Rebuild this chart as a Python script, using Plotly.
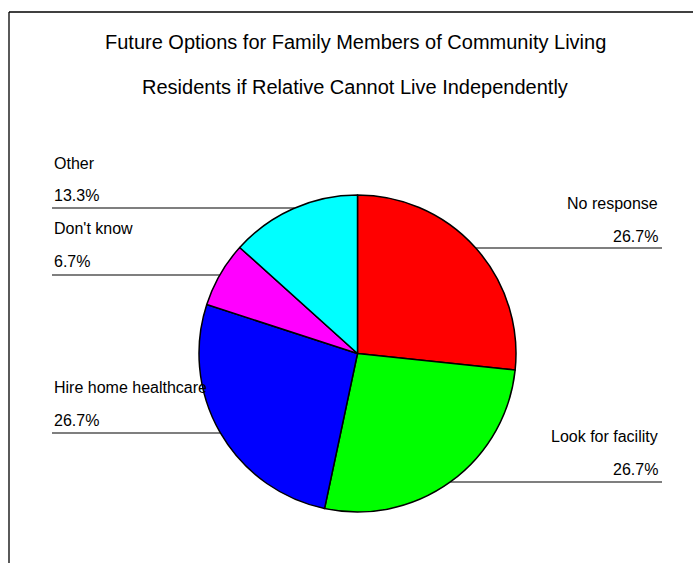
import math
import plotly.graph_objects as go

# Survey responses (counts), in clockwise order from 12 o'clock
categories = ["No response", "Look for facility", "Hire home healthcare", "Don't know", "Other"]
counts = [4, 4, 4, 1, 2]
slice_colors = ["#FF0000", "#00FF00", "#0000FF", "#FF00FF", "#00FFFF"]

title_lines = [
    "Future Options for Family Members of Community Living",
    "Residents if Relative Cannot Live Independently",
]

W, H = 693, 563
FONT = "Liberation Sans, Arial, sans-serif"

# pie placement (pixels)
cx, cy, r = 357.5, 353.5, 158.5


def px(x):
    return x / W


def py(y):
    return 1 - y / H


total = sum(counts)
pct = [f"{100 * c / total:.1f}%" for c in counts]

fig = go.Figure(
    go.Pie(
        labels=categories,
        values=counts,
        sort=False,
        direction="clockwise",
        rotation=0,
        marker=dict(colors=slice_colors, line=dict(color="black", width=1.5)),
        textinfo="none",
        hoverinfo="label+percent",
        showlegend=False,
        domain=dict(x=[px(cx - r), px(cx + r)], y=[py(cy + r), py(cy - r)]),
    )
)

annotations = []
shapes = []

# title
for i, line in enumerate(title_lines):
    annotations.append(dict(
        x=px(355), y=py(42 + 45 * i), xref="paper", yref="paper",
        text=line, showarrow=False, xanchor="center", yanchor="middle",
        font=dict(family=FONT, size=20, color="black"),
    ))

# label layout: (side, name y, leader line y)
label_pos = {
    "No response": ("right", 203, 248),
    "Look for facility": ("right", 436, 482),
    "Hire home healthcare": ("left", 387, 433),
    "Don't know": ("left", 228, 275),
    "Other": ("left", 163, 208),
}

for name, p in zip(categories, pct):
    side, ty, ly = label_pos[name]
    dx = math.sqrt(max(r * r - (ly - cy) ** 2, 0))
    if side == "left":
        tx, anchor = 52, "left"
        x0, x1 = 52, cx - dx
    else:
        tx, anchor = 660, "right"
        x0, x1 = cx + dx, 662
    for j, txt in enumerate([name, p]):
        annotations.append(dict(
            x=px(tx), y=py(ty + 33 * j), xref="paper", yref="paper",
            text=txt, showarrow=False, xanchor=anchor, yanchor="middle",
            font=dict(family=FONT, size=16, color="black"),
        ))
    shapes.append(dict(type="line", xref="paper", yref="paper",
                       x0=px(x0), x1=px(x1), y0=py(ly), y1=py(ly),
                       line=dict(color="black", width=1.2), layer="below"))

# outer frame (left and top edges)
shapes.append(dict(type="line", xref="paper", yref="paper",
                   x0=px(9), x1=px(9), y0=py(12), y1=0,
                   line=dict(color="black", width=1.3)))
shapes.append(dict(type="line", xref="paper", yref="paper",
                   x0=px(9), x1=1, y0=py(12), y1=py(12),
                   line=dict(color="black", width=1.3)))

fig.update_layout(
    width=W, height=H,
    margin=dict(l=0, r=0, t=0, b=0),
    paper_bgcolor="white",
    plot_bgcolor="white",
    annotations=annotations,
    shapes=shapes,
)

fig.write_html("out.html")
